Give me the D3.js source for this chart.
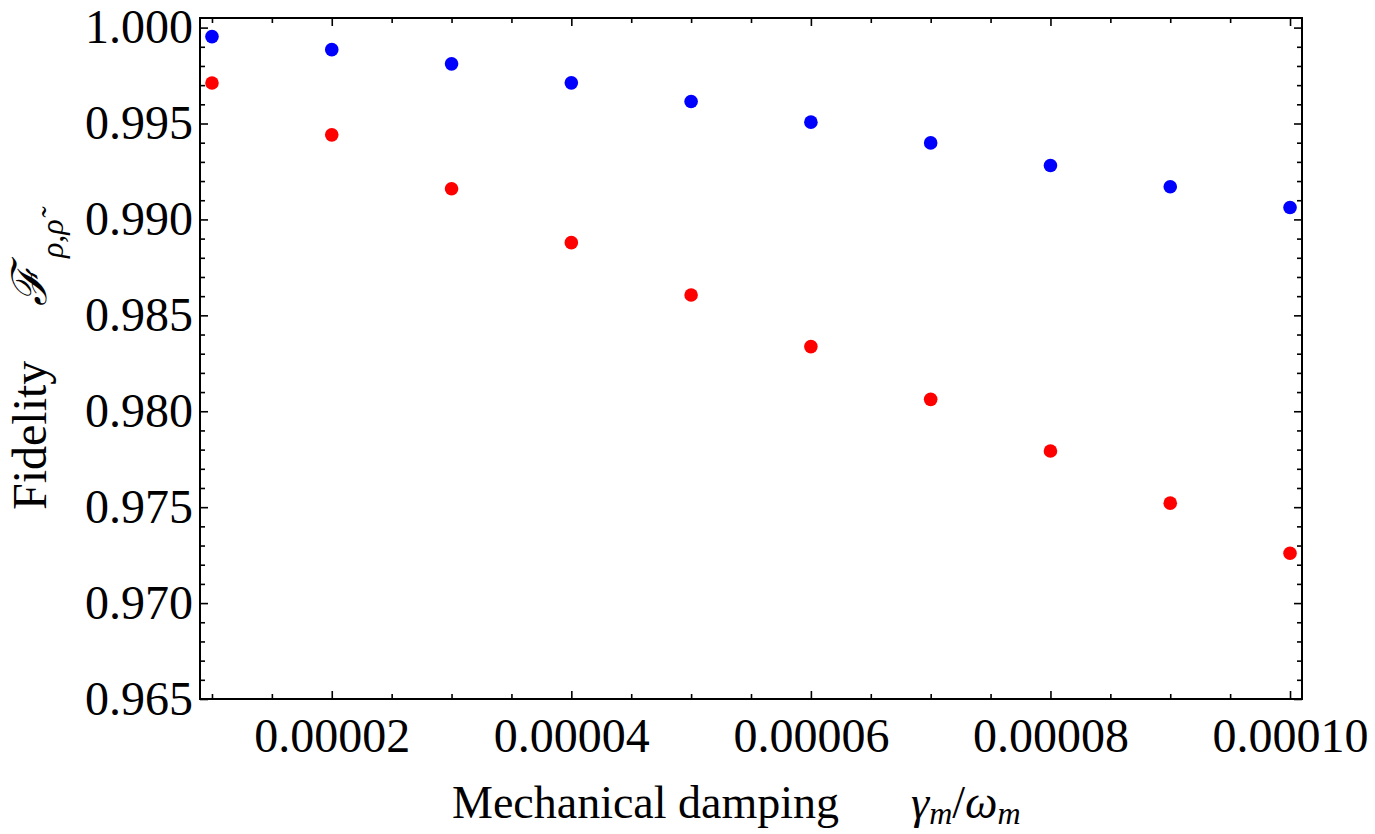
<!DOCTYPE html>
<html><head><meta charset="utf-8">
<script src="https://cdn.jsdelivr.net/npm/d3@7"></script>
<style>body{margin:0;background:#fff}svg{display:block}text{font-family:"Liberation Serif","Times New Roman",serif;fill:#000}</style>
</head><body>
<svg id="c" width="1375" height="834"></svg>
<script>
const damping = [0.00001,0.00002,0.00003,0.00004,0.00005,0.00006,0.00007,0.00008,0.00009,0.00010];
const fidelityBlue = [0.99953,0.99885,0.99811,0.99712,0.99615,0.99507,0.99399,0.99281,0.99170,0.99062];
const fidelityRed  = [0.99711,0.99441,0.99160,0.98879,0.98606,0.98337,0.98062,0.97793,0.97521,0.97260];
const yMajorTicks = [0.965,0.970,0.975,0.980,0.985,0.990,0.995,1.000];
const xMajorTicks = [0.00002,0.00004,0.00006,0.00008,0.00010];

const svg = d3.select("#c");
const L=200,R=1302,T=18,B=699;
const x = d3.scaleLinear().domain([0.000009,0.000101]).range([L,R]);
const y = d3.scaleLinear().domain([0.965,1.0005]).range([B,T]);

const yMinor = d3.range(965,1001).map(v=>v/1000).filter(v=>!yMajorTicks.some(m=>Math.abs(m-v)<1e-9));
const xMinor = d3.range(2,21).map(v=>v*0.000005).filter(v=>!xMajorTicks.some(m=>Math.abs(m-v)<1e-12));

function style(g,fs){g.select(".domain").remove();g.selectAll("line").attr("stroke","#000").attr("stroke-width",1.6);g.selectAll("text").style("font-size",fs+"px");}

// left
svg.append("g").attr("transform",`translate(${L},0)`).call(d3.axisLeft(y).tickValues(yMajorTicks).tickSize(-8).tickPadding(7).tickFormat(d3.format(".3f"))).call(g=>style(g,48));
svg.append("g").attr("transform",`translate(${L},0)`).call(d3.axisLeft(y).tickValues(yMinor).tickSize(-5).tickFormat("")).call(g=>style(g,48));
// right
svg.append("g").attr("transform",`translate(${R},0)`).call(d3.axisRight(y).tickValues(yMajorTicks).tickSize(-8).tickFormat("")).call(g=>style(g,48));
svg.append("g").attr("transform",`translate(${R},0)`).call(d3.axisRight(y).tickValues(yMinor).tickSize(-5).tickFormat("")).call(g=>style(g,48));
// bottom
svg.append("g").attr("transform",`translate(0,${B})`).call(d3.axisBottom(x).tickValues(xMajorTicks).tickSize(-8).tickPadding(19).tickFormat(d3.format(".5f"))).call(g=>style(g,48));
svg.append("g").attr("transform",`translate(0,${B})`).call(d3.axisBottom(x).tickValues(xMinor).tickSize(-5).tickFormat("")).call(g=>style(g,48));
// top
svg.append("g").attr("transform",`translate(0,${T})`).call(d3.axisTop(x).tickValues(xMajorTicks).tickSize(-8).tickFormat("")).call(g=>style(g,48));
svg.append("g").attr("transform",`translate(0,${T})`).call(d3.axisTop(x).tickValues(xMinor).tickSize(-5).tickFormat("")).call(g=>style(g,48));

// frame
svg.append("rect").attr("x",L).attr("y",T).attr("width",R-L).attr("height",B-T).attr("fill","none").attr("stroke","#000").attr("stroke-width",2);

// points
const blue = damping.map((d,i)=>({x:d,y:fidelityBlue[i]}));
const red = damping.map((d,i)=>({x:d,y:fidelityRed[i]}));
svg.append("g").selectAll("circle").data(blue).join("circle").attr("cx",d=>x(d.x)).attr("cy",d=>y(d.y)).attr("r",6.8).attr("fill","#0000ff");
svg.append("g").selectAll("circle").data(red).join("circle").attr("cx",d=>x(d.x)).attr("cy",d=>y(d.y)).attr("r",6.8).attr("fill","#ff0000");

// x label
const xl = svg.append("text").attr("x",452).attr("y",818).style("font-size","46px");
xl.append("tspan").text("Mechanical damping");
xl.append("tspan").attr("dx",72).style("font-style","italic").text("γ");
xl.append("tspan").attr("dy",6).style("font-size","32px").style("font-style","italic").text("m");
xl.append("tspan").attr("dy",-6).text("/");
xl.append("tspan").style("font-style","italic").text("ω");
xl.append("tspan").attr("dy",6).style("font-size","32px").style("font-style","italic").text("m");

// y label
svg.append("text").attr("transform","translate(46,510) rotate(-90)").style("font-size","48px").text("Fidelity");
svg.append("text").attr("transform","translate(46,306) rotate(-90)").style("font-size","48px").style("font-family","'DejaVu Serif',serif").style("font-style","italic").text("ℱ");
svg.append("text").attr("transform","translate(63,258) rotate(-90)").style("font-size","32px").style("font-style","italic").text("ρ,ρ̃");
</script>
</body></html>
